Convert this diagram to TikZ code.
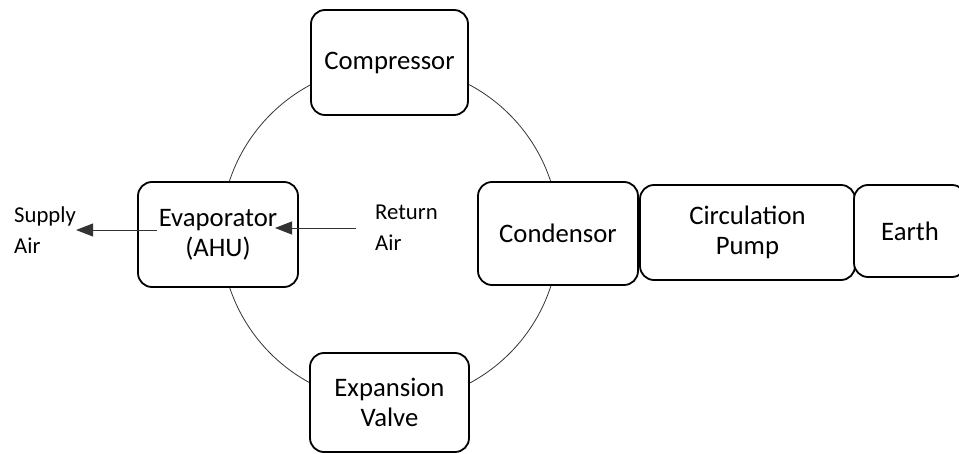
\documentclass[tikz,border=0pt]{standalone}
\usepackage{fontspec}
\setmainfont{Carlito}
\usetikzlibrary{arrows.meta}

\begin{document}
\begin{tikzpicture}
	[
		x=1pt, y=-1pt,
		unit/.style = {shape=rectangle, draw=black, line width=1.8pt, rounded corners=14pt, fill=white, align=center, inner sep=0pt, font=\fontsize{26.7}{30}\selectfont},
		airlabel/.style = {shape=rectangle, anchor=west, align=left, inner sep=0pt, font=\fontsize{22.7}{31}\selectfont},
		flow/.style = {draw=black!80, line width=0.9pt, -{Triangle[length=17pt,width=13pt]}}
	]
	
	\useasboundingbox (0,0) rectangle (959,454);
	
	\draw [line width=0.8pt, black!80] (390,234) circle [radius=169pt];
	
	\node [unit, minimum width=157pt, minimum height=105pt] (comp) at (389.5, 62.5) {Compressor};
	\node [unit, minimum width=160pt, minimum height=105pt] (evap) at (218, 234.5) {Evaporator\\(AHU)};
	\node [unit, minimum width=160pt, minimum height=103pt] (cond) at (558, 233.5) {Condensor};
	\node [unit, minimum width=159pt, minimum height=99pt] (valve) at (389.5, 402.5) {Expansion\\Valve};
	\node [unit, minimum width=215pt, minimum height=95pt] (pump) at (747.5, 232.5) {Circulation\\Pump};
	\node [unit, minimum width=112pt, minimum height=92pt] (earth) at (910, 231) {Earth};
	
	\node [airlabel] (supply) at (14, 230) {Supply\\Air};
	\node [airlabel] (return) at (375, 228) {Return\\Air};
	
	\coordinate (supplystart) at (157, 230);
	\coordinate (returntip) at (275, 228);
	
	\draw [flow] (supplystart) -- (supply.east);
	\draw [flow] ([xshift=-19pt]return.west) -- (returntip);
	
\end{tikzpicture}
\end{document}
